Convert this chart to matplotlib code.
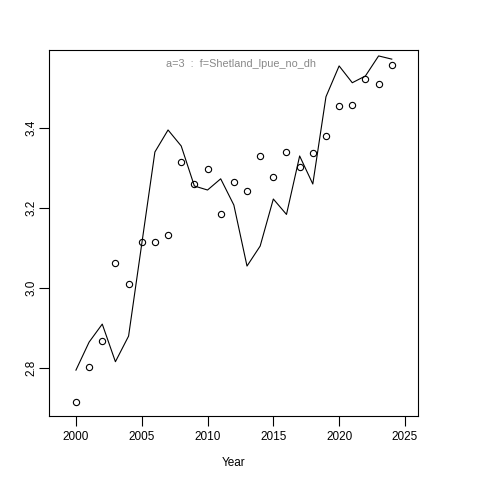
import matplotlib
matplotlib.use('Agg')
import matplotlib.pyplot as plt

years = list(range(2000, 2025))
observed = [2.715, 2.8025, 2.8675, 3.0625, 3.01, 3.115, 3.115, 3.1325, 3.315, 3.26,
            3.2975, 3.185, 3.265, 3.2425, 3.33, 3.2775, 3.34, 3.3025, 3.3375, 3.38,
            3.455, 3.4575, 3.5225, 3.51, 3.5575]
fitted = [2.795, 2.865, 2.91, 2.816, 2.88, 3.11, 3.34, 3.395, 3.355, 3.255,
          3.245, 3.273, 3.2075, 3.055, 3.105, 3.2225, 3.184, 3.33, 3.26, 3.478,
          3.555, 3.513, 3.53, 3.58, 3.572]
xticks = [2000, 2005, 2010, 2015, 2020, 2025]
yticks = [2.8, 3.0, 3.2, 3.4]
label = 'a=3  :  f=Shetland_lpue_no_dh'

plt.rcParams['font.family'] = ['Liberation Sans', 'DejaVu Sans']

fig = plt.figure(figsize=(4.8, 4.8), dpi=100)
ax = fig.add_axes([0.102, 0.133, 0.769, 0.763])

ax.plot(years, fitted, color='black', lw=0.8)
ax.plot(years, observed, 'o', mfc='none', mec='black', ms=4.5, mew=0.8)

ax.set_xlim(1997.95, 2026.0)
ax.set_ylim(2.68, 3.595)
ax.set_xticks(xticks)
ax.set_yticks(yticks)
ax.set_yticklabels([f'{v:.1f}' for v in yticks], rotation=90, va='center')
ax.tick_params(length=7, width=0.8, labelsize=8.5)
ax.tick_params(axis='x', pad=4)
ax.tick_params(axis='y', pad=1)
for s in ax.spines.values():
    s.set_linewidth(0.8)

ax.set_xlabel('Year', fontsize=8.5, labelpad=10)
fig.text(0.503, 0.866, label, ha='center', va='center', color='#888888', fontsize=7.8)

fig.savefig('out.png', dpi=100)
